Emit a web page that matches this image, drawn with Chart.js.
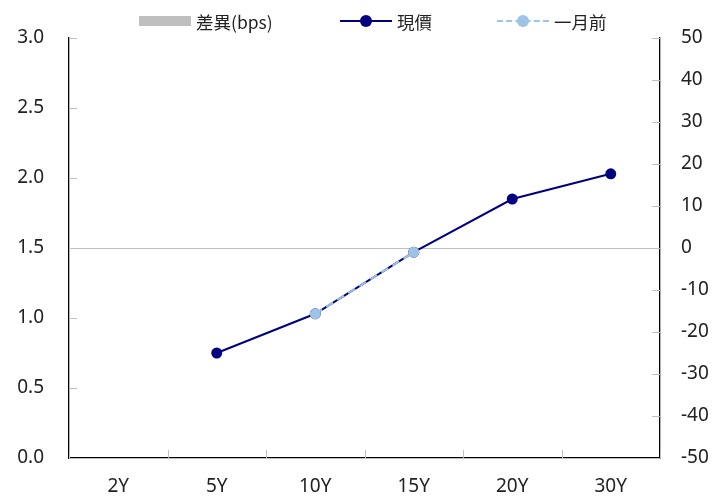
<!DOCTYPE html>
<html><head><meta charset="utf-8">
<script src="https://cdn.jsdelivr.net/npm/chart.js@4/dist/chart.umd.min.js"></script>
<style>
html,body{margin:0;padding:0;background:#fff;}
#wrap{position:relative;width:722px;height:497px;font-family:"Noto Sans","Noto Sans CJK TC",sans-serif;}
canvas{position:absolute;left:0;top:0;}
.lg{position:absolute;top:9px;height:24px;display:flex;align-items:center;font-size:17.5px;color:#222;font-family:"Noto Sans CJK TC","Noto Sans",sans-serif;}
.sw{position:relative;width:52px;height:24px;margin-right:5px;}
</style></head>
<body><div id="wrap"><canvas id="c" width="722" height="497"></canvas>
<div class="lg" style="left:139px"><div class="sw"><div style="position:absolute;left:0;top:7px;width:52px;height:10px;background:#bfbfbf"></div></div>差異(bps)</div>
<div class="lg" style="left:340px"><div class="sw"><div style="position:absolute;left:0;top:11px;width:52px;height:2px;background:#000080"></div><div style="position:absolute;left:20px;top:6px;width:12px;height:12px;border-radius:50%;background:#000080"></div></div>現價</div>
<div class="lg" style="left:497px"><div class="sw"><div style="position:absolute;left:0;top:11px;width:52px;height:0;border-top:2px dashed #9dc3e6"></div><div style="position:absolute;left:20px;top:6px;width:12px;height:12px;border-radius:50%;background:#9dc3e6"></div></div>一月前</div>
</div>
<script>
const categories = ["2Y","5Y","10Y","15Y","20Y","30Y"];
const diffBps = [null,null,0,0,null,null];
const current = [null,0.75,1.03,1.47,1.85,2.03];
const monthAgo = [null,null,1.03,1.47,null,null];
const leftTicks = [0,0.5,1,1.5,2,2.5,3];
const rightTicks = [-50,-40,-30,-20,-10,0,10,20,30,40,50];

const inwardTicks = {
  id:'inwardTicks',
  afterDatasetsDraw(chart){
    const {ctx, chartArea:a, scales} = chart;
    ctx.save();
    ctx.strokeStyle = '#bfbfbf';
    ctx.lineWidth = 1;
    const L = 8;
    scales.y.ticks.forEach(t=>{const p=Math.round(scales.y.getPixelForValue(t.value))+0.5;ctx.beginPath();ctx.moveTo(a.left,p);ctx.lineTo(a.left+L,p);ctx.stroke();});
    scales.y2.ticks.forEach(t=>{const p=Math.round(scales.y2.getPixelForValue(t.value))+0.5;ctx.beginPath();ctx.moveTo(a.right,p);ctx.lineTo(a.right-L,p);ctx.stroke();});
    const x = scales.x, n = categories.length, w = x.getPixelForValue(1)-x.getPixelForValue(0);
    for(let i=0;i<=n;i++){
      const p = Math.round(i<n ? x.getPixelForValue(i) - w/2 : x.getPixelForValue(n-1) + w/2)+0.5;
      ctx.beginPath();ctx.moveTo(p,a.bottom);ctx.lineTo(p,a.bottom-L);ctx.stroke();
    }
    ctx.restore();
  }
};

const tickFont = {family:'"Noto Sans", sans-serif', size:19};
new Chart(document.getElementById('c'),{
  data:{labels:categories,datasets:[
    {type:'line',label:'一月前',data:monthAgo,yAxisID:'y',borderColor:'#9dc3e6',backgroundColor:'#9dc3e6',borderWidth:2,borderDash:[8,5],pointRadius:5.5,pointBorderWidth:0,order:0,spanGaps:false},
    {type:'line',label:'現價',data:current,yAxisID:'y',borderColor:'#000080',backgroundColor:'#000080',borderWidth:2,pointRadius:5.5,pointBorderWidth:0,order:1},
    {type:'bar',label:'差異(bps)',data:diffBps,yAxisID:'y2',backgroundColor:'#bfbfbf',order:2}
  ]},
  plugins:[inwardTicks],
  options:{
    responsive:false,animation:false,
    layout:{padding:{top:38,bottom:0,left:0,right:0}},
    plugins:{legend:{display:false},tooltip:{enabled:false}},
    scales:{
      x:{offset:true,grid:{display:false,drawTicks:false,offset:true},border:{color:'#000',width:1.3},
         ticks:{font:tickFont,color:'#222',padding:17},
         afterFit(s){s.height=39;}},
      y:{position:'left',min:0,max:3,afterBuildTicks(s){s.ticks=leftTicks.map(v=>({value:v}));},
         grid:{display:false,drawTicks:false},border:{color:'#000',width:1.3},
         ticks:{font:tickFont,color:'#222',padding:25,callback:v=>Number(v).toFixed(1)},
         afterFit(s){s.width=69;}},
      y2:{position:'right',min:-50,max:50,afterBuildTicks(s){s.ticks=rightTicks.map(v=>({value:v}));},
         grid:{drawTicks:false,color:c=>c.tick&&c.tick.value===0?'#bfbfbf':'rgba(0,0,0,0)'},border:{color:'#000',width:1.3},
         ticks:{font:tickFont,color:'#222',padding:21},
         afterFit(s){s.width=62;}}
    }
  }
});
</script></body></html>
